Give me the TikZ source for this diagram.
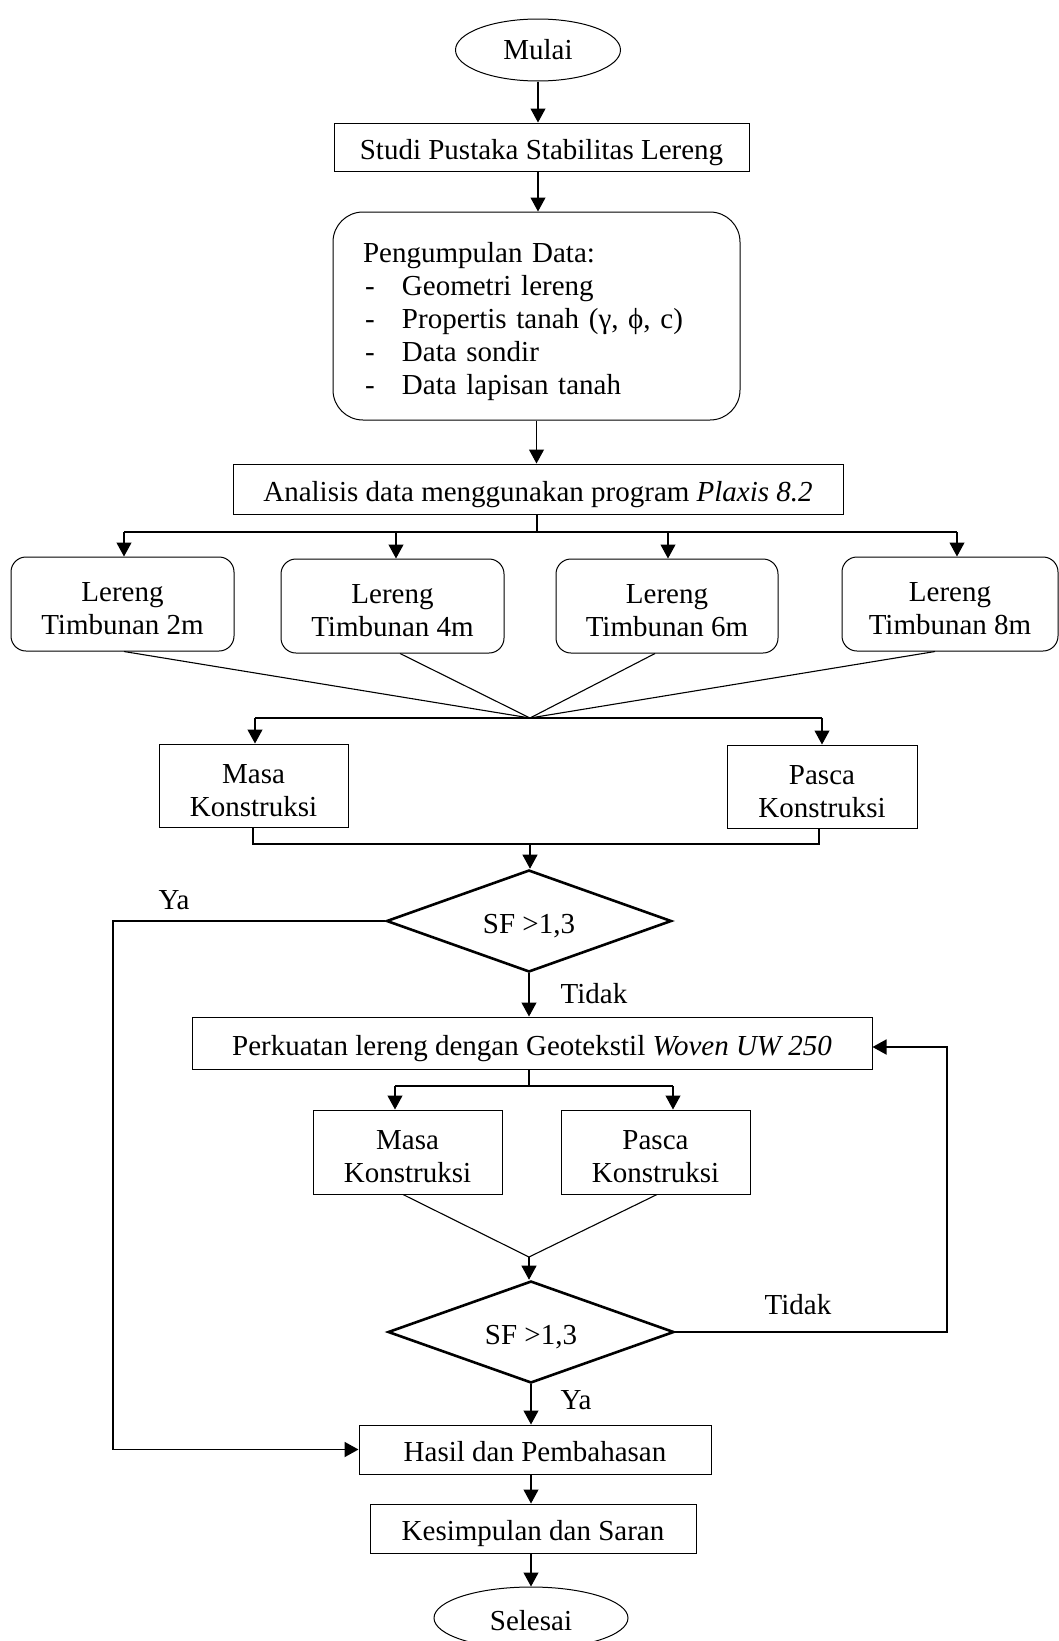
\documentclass[tikz,border=0pt]{standalone}
\usepackage{fontspec}
\setmainfont{Liberation Serif}
\usetikzlibrary{shapes.geometric,arrows.meta}
\newcommand{\tstrut}{\rule{0pt}{29pt}}
\begin{document}
\begin{tikzpicture}[x=1pt,y=-1pt,
  every node/.style={font=\fontsize{29}{33}\selectfont},
  lowtext/.style={execute at begin node={\rule{0pt}{31pt}},execute at end node={\rule[-7pt]{0pt}{7pt}}},
  box/.style={draw,line width=1pt,rectangle,inner sep=0pt,align=center},
  onebox/.style={box,lowtext},
  rbox/.style={box,rounded corners=15pt},
  term/.style={draw,line width=1pt,ellipse,inner sep=0pt},
  dec/.style={draw,line width=2.6pt,diamond,aspect=2.8,inner sep=0pt,lowtext},
  conn/.style={line width=1.1pt},
  arr/.style={conn,-{Triangle[length=14pt,width=15pt]}},
  loopline/.style={line width=1.8pt,-{Triangle[length=14pt,width=15pt]}},
  lbl/.style={inner sep=0pt}
]
\useasboundingbox (0,0) rectangle (1059,1641);

% nodes
\node[term,minimum width=165pt,minimum height=62pt] (mulai) at (538,50) {Mulai};
\node[onebox,minimum width=415pt,minimum height=48pt] (studi) at (541.5,147) {Studi Pustaka Stabilitas Lereng};
\node[onebox,rounded corners=30pt,minimum width=407pt,minimum height=208pt,text width=347pt,align=left] (data) at (536.5,316)
 {Pengumpulan Data:\\
  \hspace*{2pt}\makebox[37pt][l]{-}Geometri lereng\\
  \hspace*{2pt}\makebox[37pt][l]{-}Propertis tanah (γ, ϕ, c)\\
  \hspace*{2pt}\makebox[37pt][l]{-}Data sondir\\
  \hspace*{2pt}\makebox[37pt][l]{-}Data lapisan tanah};
\node[onebox,minimum width=610pt,minimum height=50pt] (analisis) at (538,489) {Analisis data menggunakan program \textit{Plaxis 8.2}};

\node[rbox,minimum width=223pt,minimum height=94pt] (l1) at (122.5,604) {\tstrut Lereng\\Timbunan 2m};
\node[rbox,minimum width=223pt,minimum height=94pt] (l2) at (392.5,606) {\tstrut Lereng\\Timbunan 4m};
\node[rbox,minimum width=222pt,minimum height=94pt] (l3) at (667,606) {\tstrut Lereng\\Timbunan 6m};
\node[rbox,minimum width=216pt,minimum height=94pt] (l4) at (950,604) {\tstrut Lereng\\Timbunan 8m};

\node[box,minimum width=189pt,minimum height=83pt] (masa1) at (253.5,785.5) {\tstrut Masa\\Konstruksi};
\node[box,minimum width=190pt,minimum height=83pt] (pasca1) at (822,786.5) {\tstrut Pasca\\Konstruksi};

\node[dec,minimum width=285pt,minimum height=102pt] (d1) at (529,921) {SF >1,3};

\node[onebox,minimum width=680pt,minimum height=52pt] (perk) at (532,1043) {Perkuatan lereng dengan Geotekstil \textit{Woven UW 250}};

\node[box,minimum width=189pt,minimum height=84pt] (masa2) at (407.5,1152) {\tstrut Masa\\Konstruksi};
\node[box,minimum width=189pt,minimum height=84pt] (pasca2) at (655.5,1152) {\tstrut Pasca\\Konstruksi};

\node[dec,minimum width=286pt,minimum height=102pt] (d2) at (531,1332) {SF >1,3};

\node[onebox,minimum width=352pt,minimum height=49pt] (hasil) at (535,1449.5) {Hasil dan Pembahasan};
\node[onebox,minimum width=326pt,minimum height=49pt] (kesim) at (533,1528.5) {Kesimpulan dan Saran};
\node[term,lowtext,minimum width=194pt,minimum height=62pt] (selesai) at (531,1618) {Selesai};

% labels
\node[lbl] (ya1) at (174,900) {Ya};
\node[lbl] (tidak1) at (594,994) {Tidak};
\node[lbl] (tidak2) at (798,1305) {Tidak};
\node[lbl] (ya2) at (576,1400) {Ya};

% connectors
\draw[arr] (mulai.south) -- (mulai.south |- studi.north);
\draw[arr] (studi.south -| mulai.south) -- (data.north -| mulai.south);
\draw[arr] (data.south) -- (data.south |- analisis.north);

\coordinate (j1) at (537,532);
\coordinate (b1) at (124,532);
\coordinate (b2) at (396,532);
\coordinate (b3) at (668,532);
\coordinate (b4) at (957,532);
\draw[conn] (analisis.south -| j1) -- (j1);
\draw[conn] (b1) -- (b4);
\draw[arr] (b1) -- (b1 |- l1.north);
\draw[arr] (b2) -- (b2 |- l2.north);
\draw[arr] (b3) -- (b3 |- l3.north);
\draw[arr] (b4) -- (b4 |- l4.north);

\coordinate (c1) at (530,718);
\draw[conn] ([xshift=1.5pt]l1.south) -- (c1);
\draw[conn] ([xshift=7.5pt]l2.south) -- (c1);
\draw[conn] ([xshift=-12pt]l3.south) -- (c1);
\draw[conn] ([xshift=-15pt]l4.south) -- (c1);

\coordinate (m1) at (255,718);
\coordinate (p1) at (822,718);
\draw[conn] (m1) -- (p1);
\draw[arr] (m1) -- (m1 |- masa1.north);
\draw[arr] (p1) -- (p1 |- pasca1.north);

\coordinate (jm) at (253,844);
\coordinate (jp) at (819,844);
\coordinate (j2) at (530,844);
\draw[conn] (masa1.south -| jm) -- (jm) -- (jp) -- (pasca1.south -| jp);
\draw[arr] (j2) -- (j2 |- d1.north);

\coordinate (ya1c) at (113,922);
\draw[loopline] (d1.west) -- (d1.west -| ya1c) |- (hasil.west);

\draw[arr] (d1.south) -- (d1.south |- perk.north);

\coordinate (j3) at (529,1086);
\coordinate (m2) at (395,1086);
\coordinate (p2) at (673,1086);
\draw[conn] (perk.south -| j3) -- (j3);
\draw[conn] (m2) -- (p2);
\draw[arr] (m2) -- (m2 |- masa2.north);
\draw[arr] (p2) -- (p2 |- pasca2.north);

\coordinate (c2) at (529,1257);
\draw[conn] ([xshift=-4.5pt]masa2.south) -- (c2) -- ([xshift=1.5pt]pasca2.south);
\draw[arr] (c2) -- (c2 |- d2.north);

\coordinate (t2) at (947,1047);
\draw[loopline] (d2.east) -| (t2) -- (t2 -| perk.east);

\draw[arr] (d2.south) -- (d2.south |- hasil.north);
\draw[arr] (hasil.south -| d2.south) -- (kesim.north -| d2.south);
\draw[arr] (kesim.south -| d2.south) -- (selesai.north -| d2.south);
\end{tikzpicture}
\end{document}
